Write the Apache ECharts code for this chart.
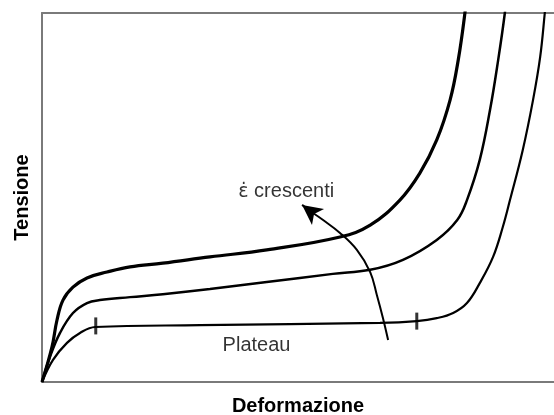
<!DOCTYPE html>
<html>
<head>
<meta charset="utf-8">
<script src="https://cdn.jsdelivr.net/npm/echarts@6/dist/echarts.min.js"></script>
<style>
    html, body { margin: 0; padding: 0; background: #fff; }
    #chart { width: 554px; height: 415px; }
</style>
</head>
<body>
<div id="chart"></div>
<script>
'use strict';

// curves: [deformazione, tensione], arbitrary units 0..100
const curveHigh = [
    [0, 0], [1.95, 9.5], [2.93, 16.8], [4.1, 22.2], [6.05, 25.7], [8.79, 28.2],
    [12.7, 29.8], [17.2, 31.2], [23.6, 32.2], [32.8, 33.9], [43.9, 35.8],
    [58.2, 39.3], [64.1, 42.5], [69.9, 49.3], [73.8, 56.6], [77.1, 65.6],
    [79.7, 76.4], [81.3, 87.3], [82.6, 100], [83.0, 106]
];
const curveMid = [
    [0, 0], [1.56, 6.8], [3.52, 13.3], [6.05, 18.7], [8.79, 21.4], [11.3, 22.2],
    [17.2, 23.0], [23.6, 23.8], [32.8, 25.2], [43.9, 27.1], [56.8, 29.3],
    [64.1, 30.4], [70.5, 33.1], [77.1, 38.5], [81.1, 43.9], [83.0, 49.3],
    [85.5, 60.2], [87.5, 73.7], [89.1, 87.3], [90.4, 100], [90.8, 106]
];
const curveLow = [
    [0, 0], [2.15, 6.0], [4.88, 10.6], [7.42, 13.3], [10.4, 14.9], [30.9, 15.4],
    [66.0, 16.0], [73.2, 16.5], [77.1, 17.3], [80.3, 18.7], [83.0, 21.4],
    [85.5, 26.8], [88.1, 33.9], [90.0, 42.0], [91.4, 49.3], [93.9, 62.9],
    [95.9, 76.4], [97.3, 88.1], [98.2, 100], [98.6, 106]
];
const plateauTicks = [[10.5, 15.2], [73.2, 16.5]];
// curved arrow "strain rate increasing": shaft, then the head
const arrowShaft = [
    [67.6, 11.4], [66.6, 17.3], [65.4, 23.6], [64.1, 29.8], [61.5, 35.8],
    [58.2, 40.4], [54.9, 43.9], [52.7, 46.0]
];
const arrowTip = [50.8, 48.0];
const annotations = [
    { text: '{e|ε\u0307} crescenti', at: [47.7, 51.5] },
    { text: 'Plateau', at: [41.9, 9.8] }
];

const frameColor = '#7a7a7a';
const ink = '#000';

const curve = (data, width) => ({
    type: 'line',
    data: data,
    smooth: 0.4,
    showSymbol: false,
    clip: true,
    lineStyle: { color: ink, width: width },
    silent: true,
    z: 3
});

const chart = echarts.init(document.getElementById('chart'), null, { renderer: 'canvas' });

chart.setOption({
    animation: false,
    backgroundColor: '#fff',
    grid: { left: 42, right: 0, top: 13, bottom: 33, outerBoundsMode: 'none', containLabel: false },
    xAxis: [
        {
            type: 'value', min: 0, max: 100, position: 'bottom',
            name: 'Deformazione', nameLocation: 'middle', nameGap: 14,
            nameTextStyle: { fontFamily: 'Liberation Sans', fontWeight: 'bold', fontSize: 20, color: '#000' },
            axisLine: { show: true, lineStyle: { color: frameColor, width: 2 } },
            axisTick: { show: false }, axisLabel: { show: false }, splitLine: { show: false }
        },
        {
            type: 'value', min: 0, max: 100, position: 'top',
            axisLine: { show: true, lineStyle: { color: frameColor, width: 2 } },
            axisTick: { show: false }, axisLabel: { show: false }, splitLine: { show: false }
        }
    ],
    yAxis: {
        type: 'value', min: 0, max: 100,
        name: 'Tensione', nameLocation: 'middle', nameGap: 10, nameRotate: 90,
        nameTextStyle: { fontFamily: 'Liberation Sans', fontWeight: 'bold', fontSize: 20, color: '#000' },
        axisLine: { show: true, lineStyle: { color: frameColor, width: 2 } },
        axisTick: { show: false }, axisLabel: { show: false }, splitLine: { show: false }
    },
    series: [
        curve(curveHigh, 3.2),
        curve(curveMid, 2.5),
        curve(curveLow, 2.2),
        {
            type: 'scatter',
            data: plateauTicks,
            symbol: 'rect',
            symbolSize: [3, 17],
            itemStyle: { color: ink },
            silent: true,
            z: 4
        },
        {
            type: 'line',
            data: arrowShaft,
            smooth: 0.4,
            showSymbol: false,
            lineStyle: { color: ink, width: 2 },
            silent: true,
            z: 4,
            markLine: {
                silent: true,
                symbol: ['none', 'arrow'],
                symbolSize: [15, 20],
                label: { show: false },
                lineStyle: { color: ink, width: 2, type: 'solid' },
                data: [[{ coord: arrowShaft[arrowShaft.length - 1] }, { coord: arrowTip }]]
            }
        },
        {
            type: 'scatter',
            data: annotations.map((a) => ({ value: a.at, name: a.text })),
            symbolSize: 0,
            silent: true,
            label: {
                show: true,
                position: 'inside',
                formatter: (p) => p.name,
                fontFamily: 'Liberation Sans',
                fontSize: 20,
                color: '#000',
                textBorderWidth: 0,
                rich: {
                    e: { fontFamily: 'DejaVu Sans', fontSize: 19, color: '#000', textBorderWidth: 0 }
                }
            }
        }
    ]
});
</script>
</body>
</html>
